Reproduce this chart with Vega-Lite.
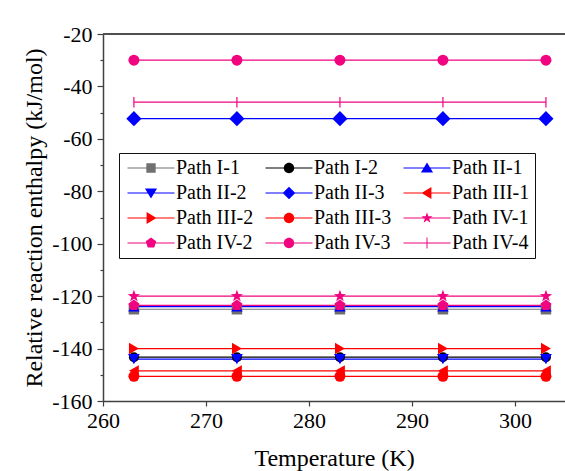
{
  "$schema": "https://vega.github.io/schema/vega-lite/v6.json",
  "autosize": {"type": "none"},
  "padding": {"left": 103, "top": 34, "right": 0, "bottom": 70},
  "width": 462,
  "height": 367,
  "background": "white",
  "config": {
    "view": {"stroke": null},
    "font": "Liberation Serif",
    "axis": {"labelFont": "Liberation Serif", "titleFont": "Liberation Serif", "labelColor": "black", "titleColor": "black", "titleFontWeight": "normal", "domainColor": "#404040", "domainWidth": 1.5, "tickColor": "#404040", "tickWidth": 1.2, "grid": false},
    "legend": {"columns": 3, "gridAlign": "none", "direction": "horizontal",
      "symbolSize": 121, "symbolOffset": 17, "labelOffset": 15, "symbolOpacity": 1, "symbolStrokeWidth": 0,
      "labelFont": "Liberation Serif", "labelFontSize": 20, "labelColor": "black", "labelLimit": 200,
      "rowPadding": 5, "columnPadding": 8, "padding": 5, "strokeColor": "#101010", "fillColor": "white", "cornerRadius": 0}
  },
  "resolve": {"legend": {"color": "independent", "shape": "independent"}},
  "data": {"values": [
    {"series": "Path I-1", "t": 263, "h": -125}, {"series": "Path I-1", "t": 273, "h": -125}, {"series": "Path I-1", "t": 283, "h": -125}, {"series": "Path I-1", "t": 293, "h": -125}, {"series": "Path I-1", "t": 303, "h": -125},
    {"series": "Path I-2", "t": 263, "h": -143.3}, {"series": "Path I-2", "t": 273, "h": -143.3}, {"series": "Path I-2", "t": 283, "h": -143.3}, {"series": "Path I-2", "t": 293, "h": -143.3}, {"series": "Path I-2", "t": 303, "h": -143.3},
    {"series": "Path II-1", "t": 263, "h": -124}, {"series": "Path II-1", "t": 273, "h": -124}, {"series": "Path II-1", "t": 283, "h": -124}, {"series": "Path II-1", "t": 293, "h": -124}, {"series": "Path II-1", "t": 303, "h": -124},
    {"series": "Path II-2", "t": 263, "h": -144}, {"series": "Path II-2", "t": 273, "h": -144}, {"series": "Path II-2", "t": 283, "h": -144}, {"series": "Path II-2", "t": 293, "h": -144}, {"series": "Path II-2", "t": 303, "h": -144},
    {"series": "Path II-3", "t": 263, "h": -52.3}, {"series": "Path II-3", "t": 273, "h": -52.3}, {"series": "Path II-3", "t": 283, "h": -52.3}, {"series": "Path II-3", "t": 293, "h": -52.3}, {"series": "Path II-3", "t": 303, "h": -52.3},
    {"series": "Path III-1", "t": 263, "h": -148.5}, {"series": "Path III-1", "t": 273, "h": -148.5}, {"series": "Path III-1", "t": 283, "h": -148.5}, {"series": "Path III-1", "t": 293, "h": -148.5}, {"series": "Path III-1", "t": 303, "h": -148.5},
    {"series": "Path III-2", "t": 263, "h": -140}, {"series": "Path III-2", "t": 273, "h": -140}, {"series": "Path III-2", "t": 283, "h": -140}, {"series": "Path III-2", "t": 293, "h": -140}, {"series": "Path III-2", "t": 303, "h": -140},
    {"series": "Path III-3", "t": 263, "h": -150.6}, {"series": "Path III-3", "t": 273, "h": -150.6}, {"series": "Path III-3", "t": 283, "h": -150.6}, {"series": "Path III-3", "t": 293, "h": -150.6}, {"series": "Path III-3", "t": 303, "h": -150.6},
    {"series": "Path IV-1", "t": 263, "h": -120}, {"series": "Path IV-1", "t": 273, "h": -120}, {"series": "Path IV-1", "t": 283, "h": -120}, {"series": "Path IV-1", "t": 293, "h": -120}, {"series": "Path IV-1", "t": 303, "h": -120},
    {"series": "Path IV-2", "t": 263, "h": -123.5}, {"series": "Path IV-2", "t": 273, "h": -123.5}, {"series": "Path IV-2", "t": 283, "h": -123.5}, {"series": "Path IV-2", "t": 293, "h": -123.5}, {"series": "Path IV-2", "t": 303, "h": -123.5},
    {"series": "Path IV-3", "t": 263, "h": -30}, {"series": "Path IV-3", "t": 273, "h": -30}, {"series": "Path IV-3", "t": 283, "h": -30}, {"series": "Path IV-3", "t": 293, "h": -30}, {"series": "Path IV-3", "t": 303, "h": -30},
    {"series": "Path IV-4", "t": 263, "h": -46}, {"series": "Path IV-4", "t": 273, "h": -46}, {"series": "Path IV-4", "t": 283, "h": -46}, {"series": "Path IV-4", "t": 293, "h": -46}, {"series": "Path IV-4", "t": 303, "h": -46}
  ]},
  "encoding": {
    "x": {"field": "t", "type": "quantitative", "scale": {"domain": [260, 304.85], "nice": false, "zero": false},
      "axis": {"title": "Temperature (K)", "values": [260, 270, 280, 290, 300], "labelFont": "Liberation Serif", "labelFontSize": 22, "titleFontSize": 24, "tickSize": 5, "labelPadding": 4, "titlePadding": 15, "labelFlush": false}},
    "y": {"field": "h", "type": "quantitative", "scale": {"domain": [-160, -20], "nice": false, "zero": false},
      "axis": {"title": "Relative reaction enthalpy (kJ/mol)", "values": [-160, -150, -140, -130, -120, -110, -100, -90, -80, -70, -60, -50, -40, -30, -20],
        "labelExpr": "datum.value % 20 === 0 ? toString(datum.value) : ''", "tickSize": {"condition": {"test": "datum.value % 20 !== 0", "value": 3}, "value": 6},
        "labelFont": "Liberation Serif", "labelFontSize": 22, "titleFontSize": 24, "labelPadding": 5, "titlePadding": 5, "labelFlush": false}},
    "color": {"field": "series", "type": "nominal", "legend": null,
      "scale": {"domain": ["Path I-1", "Path I-2", "Path II-1", "Path II-2", "Path II-3", "Path III-1", "Path III-2", "Path III-3", "Path IV-1", "Path IV-2", "Path IV-3", "Path IV-4"],
        "range": ["#707070", "#000000", "#0000FF", "#0000FF", "#0000FF", "#FF0000", "#FF0000", "#FF0000", "#F0047F", "#F0047F", "#F0047F", "#F0047F"]}}
  },
  "layer": [
    {"mark": {"type": "rule", "color": "#505050", "strokeWidth": 1.5}, "encoding": {"y": {"datum": -20}, "x": null, "color": null}},
    {"mark": {"type": "line", "strokeWidth": 1.2}, "encoding": {"detail": {"field": "series"}}},
    {"transform": [{"filter": {"field": "series", "equal": "Path I-1"}}], "mark": {"type": "point", "shape": "square", "filled": true, "opacity": 1, "size": 110, "color": "#595959"}},
    {"transform": [{"filter": {"field": "series", "equal": "Path I-2"}}], "mark": {"type": "point", "shape": "circle", "filled": true, "opacity": 1, "size": 100}},
    {"transform": [{"filter": {"field": "series", "equal": "Path II-1"}}], "mark": {"type": "point", "shape": "triangle-up", "filled": true, "opacity": 1, "size": 130}},
    {"transform": [{"filter": {"field": "series", "equal": "Path II-2"}}], "mark": {"type": "point", "shape": "triangle-down", "filled": true, "opacity": 1, "size": 140}},
    {"transform": [{"filter": {"field": "series", "equal": "Path II-3"}}], "mark": {"type": "point", "shape": "diamond", "filled": true, "opacity": 1, "size": 230}},
    {"transform": [{"filter": {"field": "series", "equal": "Path III-1"}}], "mark": {"type": "point", "shape": "triangle-left", "filled": true, "opacity": 1, "size": 130}},
    {"transform": [{"filter": {"field": "series", "equal": "Path III-2"}}], "mark": {"type": "point", "shape": "triangle-right", "filled": true, "opacity": 1, "size": 130}},
    {"transform": [{"filter": {"field": "series", "oneOf": ["Path III-3", "Path IV-3"]}}], "mark": {"type": "point", "shape": "circle", "filled": true, "opacity": 1, "size": 121}},
    {"transform": [{"filter": {"field": "series", "equal": "Path IV-1"}}], "mark": {"type": "point", "shape": "M0,-1.05L0.247,-0.34L0.999,-0.324L0.399,0.13L0.617,0.849L0,0.42L-0.617,0.849L-0.399,0.13L-0.999,-0.324L-0.247,-0.34Z", "filled": true, "opacity": 1, "size": 150}},
    {"transform": [{"filter": {"field": "series", "equal": "Path IV-2"}}], "mark": {"type": "point", "shape": "M0,-1L0.951,-0.309L0.588,0.809L-0.588,0.809L-0.951,-0.309Z", "filled": true, "opacity": 1, "size": 130}},
    {"transform": [{"filter": {"field": "series", "equal": "Path IV-4"}}], "mark": {"type": "point", "shape": "M0,-1L0,1", "filled": false, "opacity": 1, "size": 110, "strokeWidth": 1.2}},
    {"mark": {"type": "point", "filled": true, "opacity": 0, "size": 121},
      "encoding": {
        "color": {"field": "series", "type": "nominal", "legend": {"title": null, "orient": "none", "legendX": 16, "legendY": 119, "direction": "horizontal", "columns": 3}},
        "shape": {"field": "series", "type": "nominal",
          "scale": {"domain": ["Path I-1", "Path I-2", "Path II-1", "Path II-2", "Path II-3", "Path III-1", "Path III-2", "Path III-3", "Path IV-1", "Path IV-2", "Path IV-3", "Path IV-4"],
            "range": [
              "M-4.27,-0.09H-0.3V0.09H-4.27Z M0.3,-0.09H4.27V0.09H0.3Z M-0.85,-0.85H0.85V0.85H-0.85Z",
              "M-4.27,-0.09H-0.3V0.09H-4.27Z M0.3,-0.09H4.27V0.09H0.3Z M-0.95,0A0.95,0.95 0 1,1 0.95,0A0.95,0.95 0 1,1 -0.95,0Z",
              "M-4.27,-0.09H-0.3V0.09H-4.27Z M0.3,-0.09H4.27V0.09H0.3Z M0,-1L1.1,0.8H-1.1Z",
              "M-4.27,-0.09H-0.3V0.09H-4.27Z M0.3,-0.09H4.27V0.09H0.3Z M0,1L-1.1,-0.8H1.1Z",
              "M-4.27,-0.09H-0.3V0.09H-4.27Z M0.3,-0.09H4.27V0.09H0.3Z M0,-1.15L1.15,0L0,1.15L-1.15,0Z",
              "M-4.27,-0.09H-0.3V0.09H-4.27Z M0.3,-0.09H4.27V0.09H0.3Z M-1,0L0.8,-1.1V1.1Z",
              "M-4.27,-0.09H-0.3V0.09H-4.27Z M0.3,-0.09H4.27V0.09H0.3Z M1,0L-0.8,1.1V-1.1Z",
              "M-4.27,-0.09H-0.3V0.09H-4.27Z M0.3,-0.09H4.27V0.09H0.3Z M-0.95,0A0.95,0.95 0 1,1 0.95,0A0.95,0.95 0 1,1 -0.95,0Z",
              "M-4.27,-0.09H-0.3V0.09H-4.27Z M0.3,-0.09H4.27V0.09H0.3Z M0,-1.05L0.247,-0.34L0.999,-0.324L0.399,0.13L0.617,0.849L0,0.42L-0.617,0.849L-0.399,0.13L-0.999,-0.324L-0.247,-0.34Z",
              "M-4.27,-0.09H-0.3V0.09H-4.27Z M0.3,-0.09H4.27V0.09H0.3Z M0,-1L0.951,-0.309L0.588,0.809L-0.588,0.809L-0.951,-0.309Z",
              "M-4.27,-0.09H-0.3V0.09H-4.27Z M0.3,-0.09H4.27V0.09H0.3Z M-0.95,0A0.95,0.95 0 1,1 0.95,0A0.95,0.95 0 1,1 -0.95,0Z",
              "M-4.27,-0.09H4.27V0.09H-4.27Z M-0.09,-1H0.09V1H-0.09Z"
            ]},
          "legend": {"title": null, "orient": "none", "legendX": 16, "legendY": 119, "direction": "horizontal", "columns": 3}}
      }}
  ]
}
